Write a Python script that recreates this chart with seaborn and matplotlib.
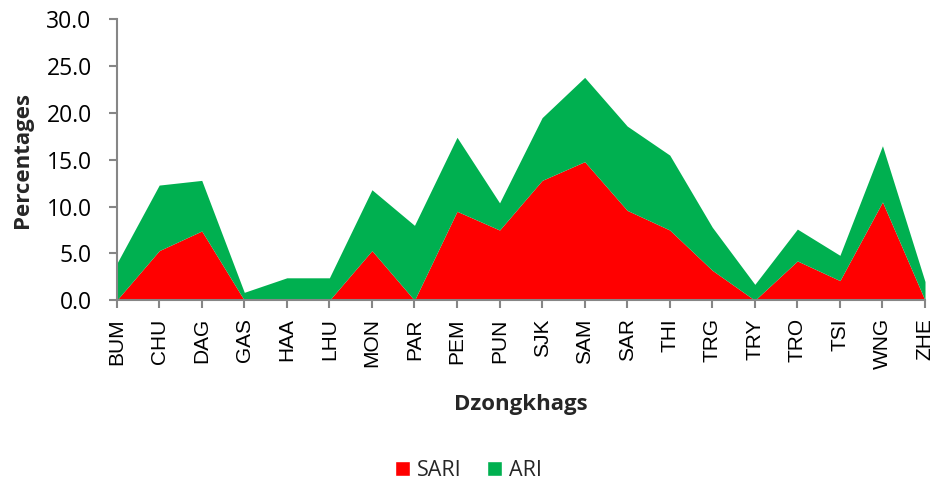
import numpy as np
import pandas as pd
import matplotlib
matplotlib.use("Agg")
import matplotlib.pyplot as plt
import seaborn as sns
from matplotlib.patches import Patch

categories = ["BUM", "CHU", "DAG", "GAS", "HAA", "LHU", "MON", "PAR", "PEM", "PUN",
              "SJK", "SAM", "SAR", "THI", "TRG", "TRY", "TRO", "TSI", "WNG", "ZHE"]
sari = [0.0, 5.3, 7.4, 0.0, 0.0, 0.0, 5.3, 0.0, 9.5, 7.5,
        12.8, 14.8, 9.6, 7.5, 3.2, 0.0, 4.2, 2.1, 10.5, 0.0]
ari = [3.9, 7.0, 5.4, 0.85, 2.4, 2.4, 6.5, 8.0, 7.9, 2.9,
       6.7, 9.0, 9.0, 8.0, 4.6, 1.7, 3.4, 2.7, 6.0, 2.0]
yticks = [0, 5, 10, 15, 20, 25, 30]

df = pd.DataFrame({"Dzongkhag": categories, "SARI": sari, "ARI": ari})
df["pos"] = np.arange(len(df))

sns.set_theme(style="white")
plt.rcParams["font.family"] = ["Open Sans", "DejaVu Sans"]

RED = "#FF0000"
GREEN = "#00B050"
GREY = "#868686"

fig = plt.figure(figsize=(9.37, 4.87), dpi=100)
ax = fig.add_axes([0.1245, 0.3834, 0.8627, 0.5770])

ax.stackplot(df["pos"], df["SARI"], df["ARI"], colors=[RED, GREEN], linewidth=0)

ax.set_xlim(0, len(df) - 1)
ax.set_ylim(0, 30)
ax.set_yticks(yticks)
ax.set_yticklabels([f"{v:.1f}" for v in yticks], fontsize=16.5, family=["Open Sans", "DejaVu Sans"])
ax.set_xticks(df["pos"])
ax.set_xticklabels(df["Dzongkhag"], rotation=90, fontsize=15,
                   family=["Liberation Sans", "DejaVu Sans"])

for side in ["top", "right"]:
    ax.spines[side].set_visible(False)
for side in ["left", "bottom"]:
    ax.spines[side].set_color(GREY)
    ax.spines[side].set_linewidth(1.5)
ax.tick_params(axis="both", which="major", direction="out", length=6, width=1.5,
               color=GREY, left=True, bottom=True, labelcolor="black")
ax.tick_params(axis="y", pad=12)
ax.tick_params(axis="x", pad=7)

ax.set_ylabel("Percentages", fontsize=16, fontweight="bold", labelpad=10)
ax.set_xlabel("Dzongkhags", fontsize=16, fontweight="bold", labelpad=18)

handles = [Patch(facecolor=RED, label="SARI"), Patch(facecolor=GREEN, label="ARI")]
fig.legend(handles=handles, loc="center", bbox_to_anchor=(0.5, 0.033), ncol=2,
           frameon=False, fontsize=15.5, handlelength=0.7, handleheight=0.7,
           handletextpad=0.3, columnspacing=1.2)

fig.savefig("out.png", dpi=100, facecolor="white")
